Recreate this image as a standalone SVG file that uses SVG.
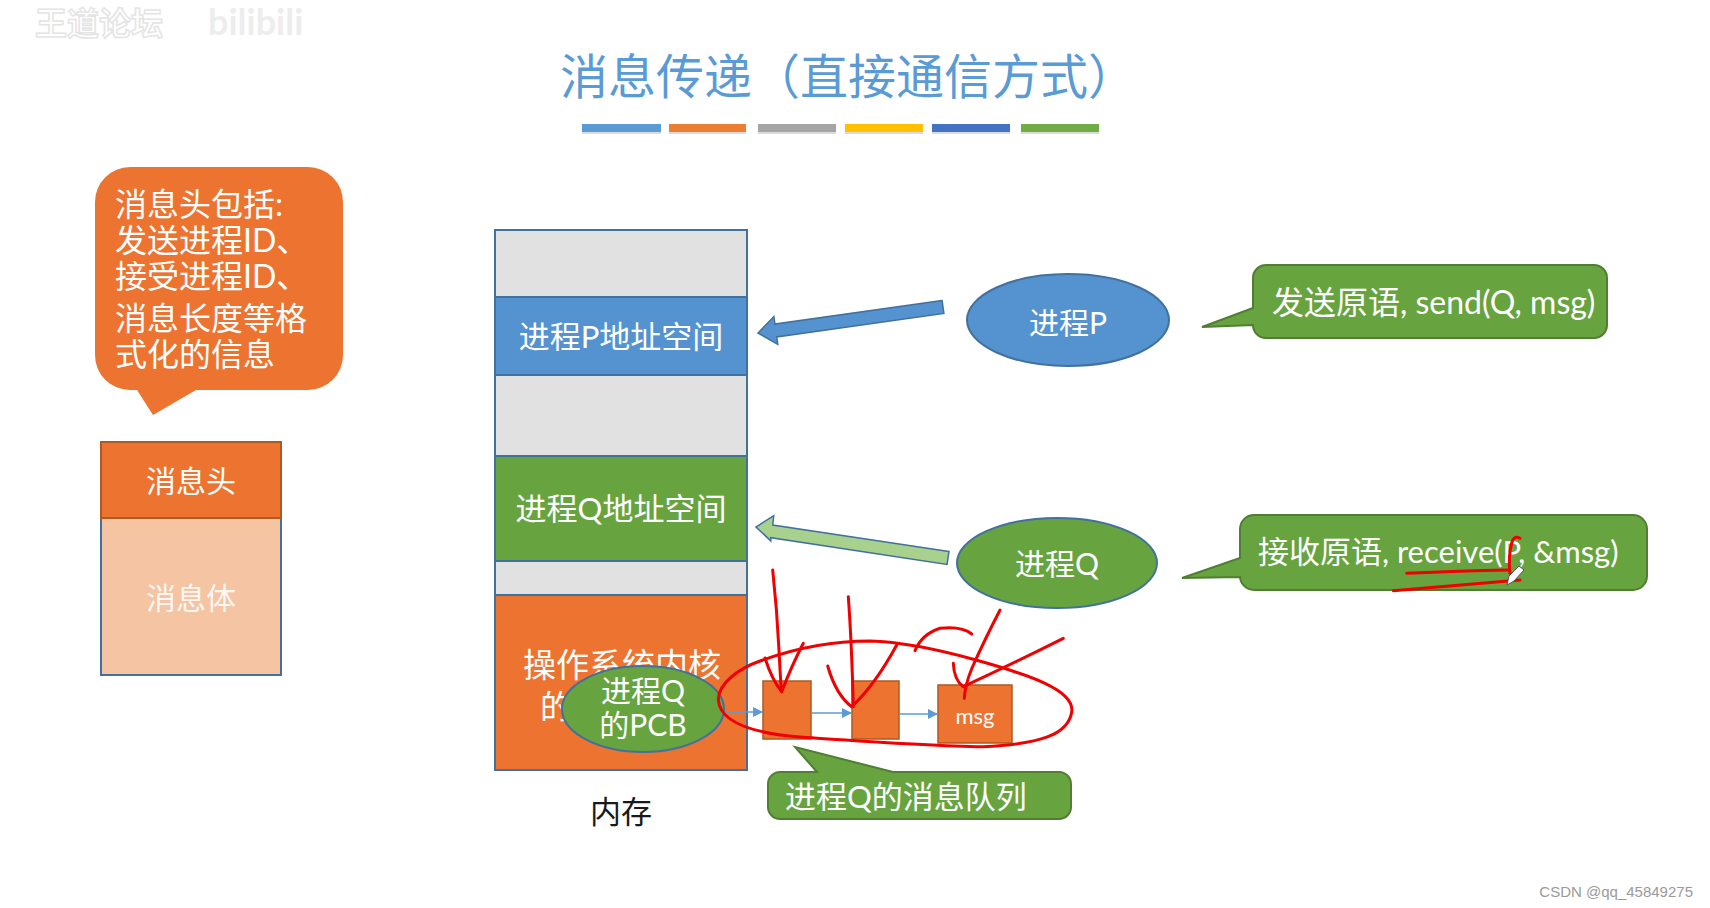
<svg xmlns="http://www.w3.org/2000/svg" width="1710" height="908" viewBox="0 0 1710 908">
<defs>
<marker id="tri" viewBox="0 0 10 10" refX="10" refY="5" markerWidth="10" markerHeight="10" markerUnits="userSpaceOnUse" orient="auto">
<path d="M0,0 L10,5 L0,10 Z" fill="#5B9BD5"/>
</marker>
<style>
.t{font-family:Lato,"Noto Sans CJK SC",sans-serif;fill:#fff;dominant-baseline:central}
.mid{text-anchor:middle}
.mem{stroke:#41719C;stroke-width:2}
.gr{fill:#E2E1E1}
.green{fill:#67A43F}
.orange{fill:#EC7430}
.blue{fill:#5592D0}
.cg{fill:#67A43F;stroke:#507E32;stroke-width:2}
.qb{fill:#EC7430;stroke:#AE5A21;stroke-width:1.5}
.red{fill:none;stroke:#F00000;stroke-width:3;stroke-linecap:round;stroke-linejoin:round}
.conn{stroke:#5B9BD5;stroke-width:1.5;fill:none}
</style>
</defs>
<rect width="1710" height="908" fill="#fff"/>

<g id="watermark">
<text x="35" y="21" font-family="'Noto Sans CJK SC',sans-serif" font-weight="bold" font-size="32" fill="#fff" stroke="#e4e4e4" stroke-width="1.5" dominant-baseline="central">王道论坛</text>
<text x="208" y="21" font-family="Lato,sans-serif" font-weight="bold" font-size="36" fill="#ededed" dominant-baseline="central">bilibili</text>
</g>

<g id="title">
<text x="848" y="73" class="mid" font-family="'Noto Sans CJK SC',sans-serif" font-size="48" fill="#5B9BD5" dominant-baseline="central">消息传递（直接通信方式）</text>
<g>
<rect x="582" y="131" width="79" height="3" fill="#999" opacity="0.35"/>
<rect x="669" y="131" width="77" height="3" fill="#999" opacity="0.35"/>
<rect x="758" y="131" width="78" height="3" fill="#999" opacity="0.35"/>
<rect x="845" y="131" width="78" height="3" fill="#999" opacity="0.35"/>
<rect x="932" y="131" width="78" height="3" fill="#999" opacity="0.35"/>
<rect x="1021" y="131" width="78" height="3" fill="#999" opacity="0.35"/>
<rect x="582" y="124" width="79" height="8" fill="#5B9BD5"/>
<rect x="669" y="124" width="77" height="8" fill="#ED7D31"/>
<rect x="758" y="124" width="78" height="8" fill="#A5A5A5"/>
<rect x="845" y="124" width="78" height="8" fill="#FFC000"/>
<rect x="932" y="124" width="78" height="8" fill="#4472C4"/>
<rect x="1021" y="124" width="78" height="8" fill="#70AD47"/>
</g>
</g>

<g id="header-callout">
<path d="M130,167 H308 A35,35 0 0 1 343,202 V355 A35,35 0 0 1 308,390 H196 L153,415 L137,390 H130 A35,35 0 0 1 95,355 V202 A35,35 0 0 1 130,167 Z" fill="#EC7430"/>
<text class="t" font-size="32" x="115" y="203">消息头包括:</text>
<text class="t" font-size="32" x="115" y="239">发送进程ID、</text>
<text class="t" font-size="32" x="115" y="275">接受进程ID、</text>
<text class="t" font-size="32" x="115" y="317">消息长度等格</text>
<text class="t" font-size="32" x="115" y="353">式化的信息</text>
</g>

<g id="message">
<rect x="101" y="518" width="180" height="157" fill="#F5C4A3" stroke="#41719C" stroke-width="2"/>
<rect x="101" y="442" width="180" height="76" fill="#EC7430" stroke="#AE5A21" stroke-width="2"/>
<text class="t mid" font-size="30" x="191" y="480">消息头</text>
<text class="t mid" font-size="30" x="191" y="597" fill-opacity="0.9">消息体</text>
</g>

<g id="memory">
<rect class="gr mem" x="495" y="230" width="252" height="67"/>
<rect class="blue mem" x="495" y="297" width="252" height="78"/>
<rect class="gr mem" x="495" y="375" width="252" height="81"/>
<rect class="green mem" x="495" y="456" width="252" height="105"/>
<rect class="gr mem" x="495" y="561" width="252" height="34"/>
<rect class="orange mem" x="495" y="595" width="252" height="175"/>
<text class="t mid" font-size="31" x="621" y="336">进程P地址空间</text>
<text class="t mid" font-size="31" x="621" y="508">进程Q地址空间</text>
<text class="t" font-size="33" x="523" y="664">操作系统内核</text>
<text class="t" font-size="33" x="540" y="706">的</text>
<text x="621" y="809" class="mid" font-family="'Noto Sans CJK SC',sans-serif" font-size="31" fill="#1a1a1a" dominant-baseline="central">内存</text>
</g>

<g id="pcb">
<ellipse cx="643" cy="709" rx="81" ry="43" fill="#67A43F" stroke="#41719C" stroke-width="2"/>
<text class="t mid" font-size="30" x="643" y="690">进程Q</text>
<text class="t mid" font-size="30" x="643" y="724">的PCB</text>
</g>

<g id="procP">
<ellipse cx="1068" cy="320" rx="101" ry="46" fill="#5592D0" stroke="#41719C" stroke-width="2"/>
<text class="t mid" font-size="30" x="1068" y="322">进程P</text>
</g>

<g id="procQ">
<ellipse cx="1057" cy="563" rx="100" ry="45" fill="#67A43F" stroke="#41719C" stroke-width="2"/>
<text class="t mid" font-size="30" x="1057" y="563">进程Q</text>
</g>

<g id="send-callout">
<path class="cg" d="M1266,265 H1594 A13,13 0 0 1 1607,278 V325 A13,13 0 0 1 1594,338 H1266 A13,13 0 0 1 1253,325 V325 L1202,327 L1253,308 V278 A13,13 0 0 1 1266,265 Z"/>
<text class="t" font-size="32" x="1272" y="301">发送原语, send(Q, msg)</text>
</g>

<g id="receive-callout">
<path class="cg" d="M1254,515 H1633 A14,14 0 0 1 1647,529 V576 A14,14 0 0 1 1633,590 H1254 A14,14 0 0 1 1240,576 V577 L1182,578 L1240,558 V529 A14,14 0 0 1 1254,515 Z"/>
<text class="t" font-size="31" x="1258" y="551">接收原语, receive(P, &amp;msg)</text>
</g>

<g id="queue">
<rect class="qb" x="763" y="681" width="48" height="58"/>
<rect class="qb" x="852" y="681" width="47" height="58"/>
<rect class="qb" x="938" y="685" width="74" height="58"/>
<text class="t mid" font-size="22" x="975" y="715">msg</text>
</g>

<g id="queue-callout">
<path class="cg" d="M780,772 H817 L795,747 L893,772 H1059 A12,12 0 0 1 1071,784 V807 A12,12 0 0 1 1059,819 H780 A12,12 0 0 1 768,807 V784 A12,12 0 0 1 780,772 Z"/>
<text class="t" font-size="31" x="785" y="796">进程Q的消息队列</text>
</g>

<g id="connectors">
<polygon points="942.1,300.6 774.9,324.1 773.9,316.6 758,333 777.8,344.4 776.7,336.9 943.9,313.4" fill="#5592D0" stroke="#41719C" stroke-width="1.5" stroke-linejoin="miter"/>
<polygon points="949,551.6 772.8,525 773.7,515.6 756,527 770.8,540.9 770.8,537.7 947,564.4" fill="#A9D18E" stroke="#41719C" stroke-width="1.5"/>
<line class="conn" x1="725" y1="712" x2="763" y2="712" marker-end="url(#tri)"/>
<line class="conn" x1="811" y1="713" x2="852" y2="713" marker-end="url(#tri)"/>
<line class="conn" x1="899" y1="714" x2="938" y2="714" marker-end="url(#tri)"/>
</g>

<g id="annotations">
<path class="red" d="M772.7,570 Q777,610 779,650 T781.7,691.7"/>
<path class="red" d="M765,658 Q772,680 781.7,691.7 Q792,665 803.3,643.3"/>
<path class="red" d="M848.3,596.7 Q851.7,643 853.3,706.7"/>
<path class="red" d="M827.7,666 Q836,695 851.7,706.7 Q875,685 896.7,645"/>
<path class="red" d="M1000,610 Q983,643 972,668 Q965,685 964.3,698.3"/>
<path class="red" d="M1063.3,638.3 Q1016,662 963.3,686.7"/>
<path class="red" d="M953.3,663.3 Q954,680 963.3,686.7"/>
<path class="red" d="M915,650.7 Q922,634 940,628.3 Q962,626 971.7,634"/>
<path class="red" d="M973.3,659.3 C1030,675 1075,690 1071.7,712 C1068,735 1040,744 983,746.7 C930,746 860,741 800,737 C750,733 720,722 718.3,700 C718,683 740,668 760,661 C790,650 830,641 870,641 C905,642 940,650 973.3,659.3"/>
<path class="red" d="M1406.7,573.3 Q1460,571 1508.3,570"/>
<path class="red" d="M1393.3,590.7 Q1460,585 1520,580"/>
<path class="red" d="M1520,538.3 Q1514,535 1512,542 Q1508,556 1510,573.3"/>
<polygon points="1507,585 1509,576 1519,566 1524,570 1514,581" fill="#fff" stroke="#555" stroke-width="1"/>
</g>

<text x="1693" y="891" text-anchor="end" font-family="'Liberation Sans',sans-serif" font-size="15" fill="#9a9a9a" dominant-baseline="central">CSDN @qq_45849275</text>
</svg>
